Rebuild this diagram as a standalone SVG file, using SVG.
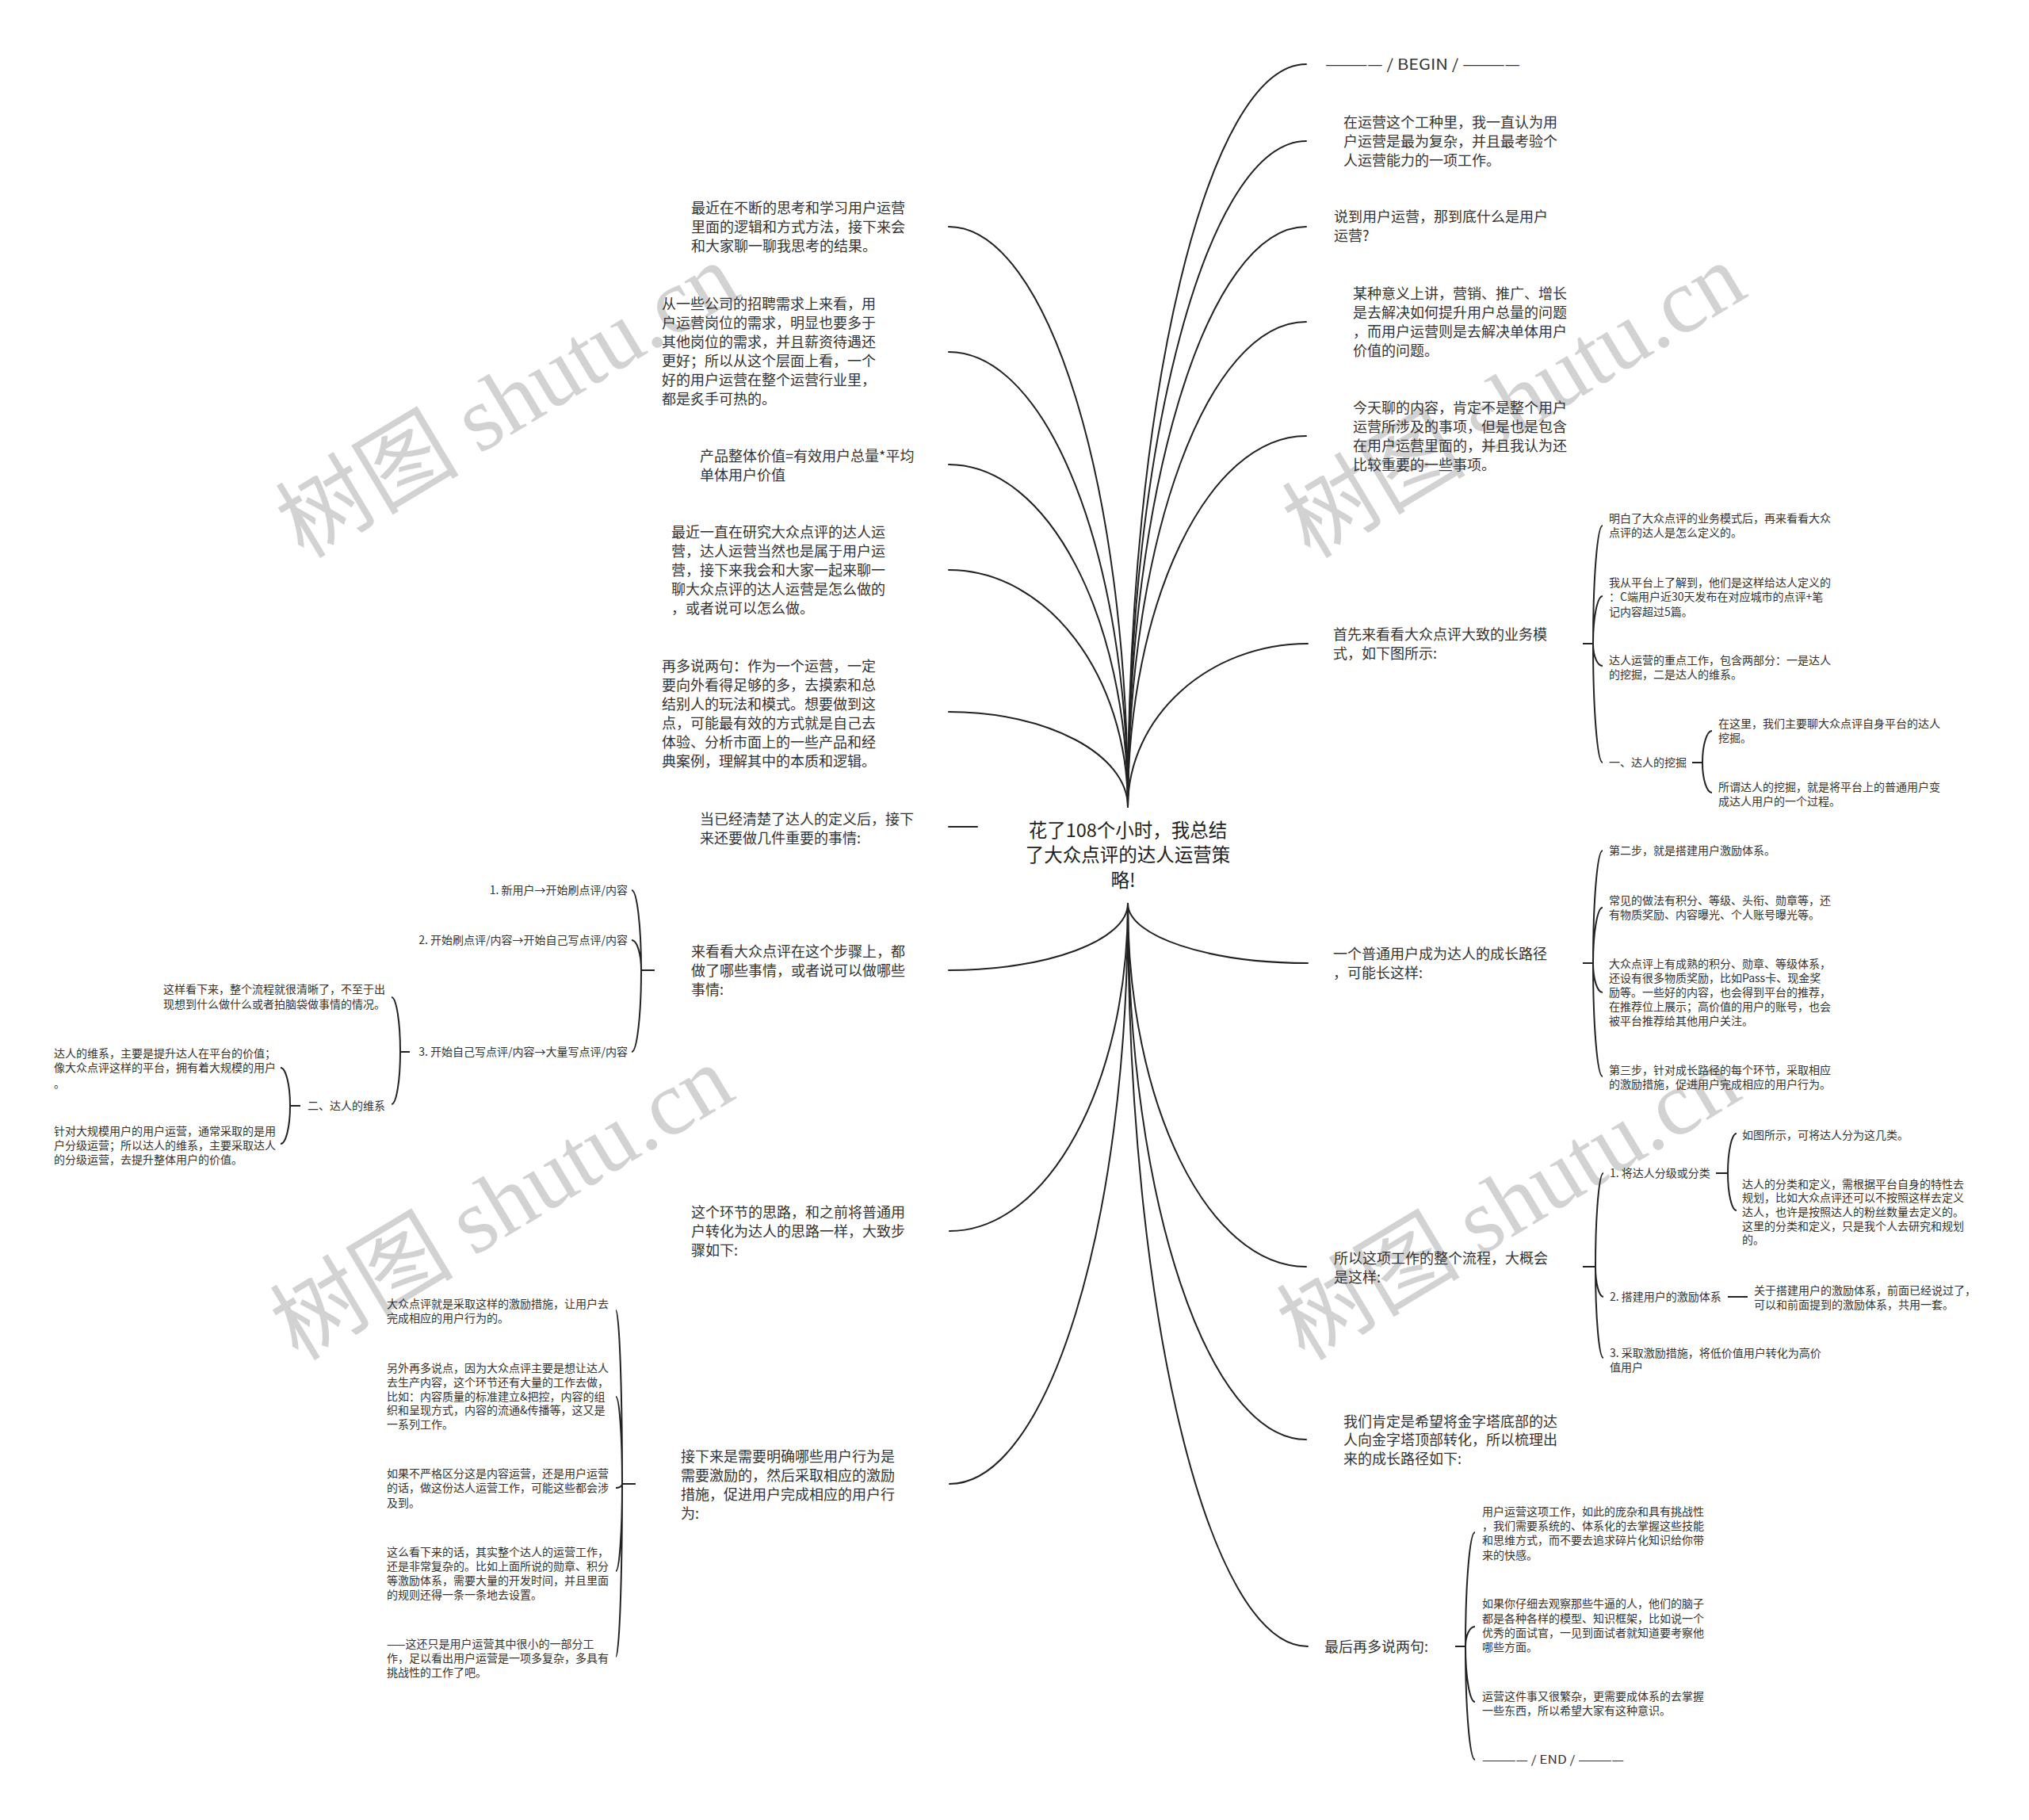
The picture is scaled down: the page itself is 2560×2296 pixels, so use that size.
<svg xmlns="http://www.w3.org/2000/svg" width="2560" height="2296" viewBox="0 0 2560 2296">
<style>
text{font-family:'Noto Sans CJK SC','Noto Sans',sans-serif;fill:#333}
.m{font-size:18px}
.s{font-size:14px}
.r{font-size:23.5px;text-anchor:middle;fill:#222}
.e{text-anchor:end}
.c{fill:none;stroke:#222;stroke-width:2;stroke-linecap:round}
.b{fill:none;stroke:#222;stroke-width:2}
.wm{font-size:116px;fill:#d2d2d2}
.wl{font-family:'Liberation Serif',serif}
</style>
<rect width="2560" height="2296" fill="#fff"/>
<g id="watermark">
<text class="wm" transform="translate(383,706) rotate(-31)">树图 <tspan class="wl">shutu.cn</tspan></text>
<text class="wm" transform="translate(1653,706) rotate(-31)">树图 <tspan class="wl">shutu.cn</tspan></text>
<text class="wm" transform="translate(376,1718) rotate(-31)">树图 <tspan class="wl">shutu.cn</tspan></text>
<text class="wm" transform="translate(1646,1718) rotate(-31)">树图 <tspan class="wl">shutu.cn</tspan></text>
</g>
<g id="connectors">
<path class="c" d="M1423 1018C1423 500 1524 81 1648 81"/>
<path class="c" d="M1423 1018C1423 554 1524 178 1648 178"/>
<path class="c" d="M1423 1018C1423 614 1524 286 1648 286"/>
<path class="c" d="M1423 1018C1423 680 1524 406 1648 406"/>
<path class="c" d="M1423 1018C1423 760 1524 550 1648 550"/>
<path class="c" d="M1423 1018C1423 904 1525 812 1650 812"/>
<path class="c" d="M1423 1018C1423 614 1322 286 1197 286"/>
<path class="c" d="M1423 1018C1423 701 1322 444 1197 444"/>
<path class="c" d="M1423 1018C1423 779 1322 586 1197 586"/>
<path class="c" d="M1423 1018C1423 853 1322 719 1197 719"/>
<path class="c" d="M1423 1018C1423 952 1322 898 1197 898"/>
<path class="c" d="M1233 1043H1197"/>
<path class="c" d="M1423 1140C1423 1181 1525 1215 1650 1215"/>
<path class="c" d="M1423 1140C1423 1393 1524 1598 1648 1598"/>
<path class="c" d="M1423 1140C1423 1513 1524 1816 1648 1816"/>
<path class="c" d="M1423 1140C1423 1658 1525 2077 1650 2077"/>
<path class="c" d="M1423 1140C1423 1186 1322 1224 1197 1224"/>
<path class="c" d="M1423 1140C1423 1368 1322 1553 1198 1553"/>
<path class="c" d="M1423 1140C1423 1544 1322 1872 1198 1872"/>
<path class="b" d="M1997 812H2010M2010 812C2010 730 2015.4 663 2022 663M2010 812C2010 779 2015.4 752 2022 752M2010 812C2010 827.5 2015.4 840 2022 840M2010 812C2010 895 2015.4 962 2022 962"/>
<path class="b" d="M2135 962H2148M2148 962C2148 940 2153.4 922 2160 922M2148 962C2148 983 2153.4 1000 2160 1000"/>
<path class="b" d="M1997 1215H2010M2010 1215C2010 1136.6 2015.4 1073 2022 1073M2010 1215C2010 1176.3 2015.4 1145 2022 1145M2010 1215C2010 1235.4 2015.4 1252 2022 1252M2010 1215C2010 1294 2015.4 1358 2022 1358"/>
<path class="b" d="M1997 1598H2013M2013 1598C2013 1533 2017.5 1480 2023 1480M2013 1598C2013 1619 2017.5 1636 2023 1636M2013 1598C2013 1661.5 2017.5 1713 2023 1713"/>
<path class="b" d="M2165 1480H2180M2180 1480C2180 1452.4 2185 1430 2191 1430M2180 1480C2180 1506 2185 1527 2191 1527"/>
<path class="b" d="M2180 1636H2205"/>
<path class="b" d="M1836 2077H1849M1849 2077C1849 1997.5 1854.4 1933 1861 1933M1849 2077C1849 2063 1854.4 2052 1861 2052M1849 2077C1849 2115.7 1854.4 2147 1861 2147M1849 2077C1849 2156 1854.4 2220 1861 2220"/>
<path class="b" d="M826 1224H809M809 1224C809 1168 803.6 1123 797 1123M809 1224C809 1203 803.6 1186 797 1186M809 1224C809 1281 803.6 1327 797 1327"/>
<path class="b" d="M517 1327H505M505 1327C505 1289 500 1258 494 1258M505 1327C505 1363.5 500 1393 494 1393"/>
<path class="b" d="M379 1395H366M366 1395C366 1368.5 360.6 1347 354 1347M366 1395C366 1421.5 360.6 1443 354 1443"/>
<path class="b" d="M802 1872H785M785 1872C785 1751 781.4 1653 777 1653M785 1872C785 1811 781.4 1762 777 1762M785 1872C785 1874.8 781.4 1877 777 1877M785 1872C785 1933 781.4 1982 777 1982M785 1872C785 1992 781.4 2090 777 2090"/>
</g>
<g id="root"><text class="r"><tspan x="1423" y="1056">花了108个小时，我总结</tspan><tspan x="1423" y="1087">了大众点评的达人运营策</tspan><tspan x="1417" y="1119">略!</tspan></text></g>
<g id="n-begin"><text class="m" x="1672" y="88" textLength="246" lengthAdjust="spacingAndGlyphs">———— / BEGIN / ————</text></g>
<g id="n-r1"><text class="m"><tspan x="1695" y="161">在运营这个工种里，我一直认为用</tspan><tspan x="1695" y="185">户运营是最为复杂，并且最考验个</tspan><tspan x="1695" y="209">人运营能力的一项工作。</tspan></text></g>
<g id="n-r2"><text class="m"><tspan x="1683" y="280">说到用户运营，那到底什么是用户</tspan><tspan x="1683" y="304">运营?</tspan></text></g>
<g id="n-r3"><text class="m"><tspan x="1707" y="377">某种意义上讲，营销、推广、增长</tspan><tspan x="1707" y="401">是去解决如何提升用户总量的问题</tspan><tspan x="1707" y="425">，而用户运营则是去解决单体用户</tspan><tspan x="1707" y="449">价值的问题。</tspan></text></g>
<g id="n-r4"><text class="m"><tspan x="1707" y="521">今天聊的内容，肯定不是整个用户</tspan><tspan x="1707" y="545">运营所涉及的事项，但是也是包含</tspan><tspan x="1707" y="569">在用户运营里面的，并且我认为还</tspan><tspan x="1707" y="593">比较重要的一些事项。</tspan></text></g>
<g id="n-r5"><text class="m"><tspan x="1682" y="807">首先来看看大众点评大致的业务模</tspan><tspan x="1682" y="831">式，如下图所示:</tspan></text></g>
<g id="n-r5a"><text class="s"><tspan x="2030" y="659">明白了大众点评的业务模式后，再来看看大众</tspan><tspan x="2030" y="677">点评的达人是怎么定义的。</tspan></text></g>
<g id="n-r5b"><text class="s"><tspan x="2030" y="740">我从平台上了解到，他们是这样给达人定义的</tspan><tspan x="2030" y="758">：C端用户近30天发布在对应城市的点评+笔</tspan><tspan x="2030" y="777">记内容超过5篇。</tspan></text></g>
<g id="n-r5c"><text class="s"><tspan x="2030" y="838">达人运营的重点工作，包含两部分：一是达人</tspan><tspan x="2030" y="856">的挖掘，二是达人的维系。</tspan></text></g>
<g id="n-r5d"><text class="s" x="2030" y="967">一、达人的挖掘</text></g>
<g id="n-r5d1"><text class="s"><tspan x="2168" y="918">在这里，我们主要聊大众点评自身平台的达人</tspan><tspan x="2168" y="936">挖掘。</tspan></text></g>
<g id="n-r5d2"><text class="s"><tspan x="2168" y="998">所谓达人的挖掘，就是将平台上的普通用户变</tspan><tspan x="2168" y="1016">成达人用户的一个过程。</tspan></text></g>
<g id="n-r6"><text class="m"><tspan x="1682" y="1210">一个普通用户成为达人的成长路径</tspan><tspan x="1682" y="1234">，可能长这样:</tspan></text></g>
<g id="n-r6a"><text class="s" x="2030" y="1078">第二步，就是搭建用户激励体系。</text></g>
<g id="n-r6b"><text class="s"><tspan x="2030" y="1141">常见的做法有积分、等级、头衔、勋章等，还</tspan><tspan x="2030" y="1159">有物质奖励、内容曝光、个人账号曝光等。</tspan></text></g>
<g id="n-r6c"><text class="s"><tspan x="2030" y="1221">大众点评上有成熟的积分、勋章、等级体系，</tspan><tspan x="2030" y="1239">还设有很多物质奖励，比如Pass卡、现金奖</tspan><tspan x="2030" y="1257">励等。一些好的内容，也会得到平台的推荐，</tspan><tspan x="2030" y="1275">在推荐位上展示；高价值的用户的账号，也会</tspan><tspan x="2030" y="1293">被平台推荐给其他用户关注。</tspan></text></g>
<g id="n-r6d"><text class="s"><tspan x="2030" y="1355">第三步，针对成长路径的每个环节，采取相应</tspan><tspan x="2030" y="1373">的激励措施，促进用户完成相应的用户行为。</tspan></text></g>
<g id="n-r7"><text class="m"><tspan x="1683" y="1594">所以这项工作的整个流程，大概会</tspan><tspan x="1683" y="1618">是这样:</tspan></text></g>
<g id="n-r7a"><text class="s" x="2031" y="1485">1. 将达人分级或分类</text></g>
<g id="n-r7a1"><text class="s" x="2198" y="1437">如图所示，可将达人分为这几类。</text></g>
<g id="n-r7a2"><text class="s"><tspan x="2198" y="1499">达人的分类和定义，需根据平台自身的特性去</tspan><tspan x="2198" y="1516">规划，比如大众点评还可以不按照这样去定义</tspan><tspan x="2198" y="1534">达人，也许是按照达人的粉丝数量去定义的。</tspan><tspan x="2198" y="1552">这里的分类和定义，只是我个人去研究和规划</tspan><tspan x="2198" y="1569">的。</tspan></text></g>
<g id="n-r7b"><text class="s" x="2031" y="1641">2. 搭建用户的激励体系</text></g>
<g id="n-r7b1"><text class="s"><tspan x="2213" y="1633">关于搭建用户的激励体系，前面已经说过了，</tspan><tspan x="2213" y="1651">可以和前面提到的激励体系，共用一套。</tspan></text></g>
<g id="n-r7c"><text class="s"><tspan x="2031" y="1712">3. 采取激励措施，将低价值用户转化为高价</tspan><tspan x="2031" y="1730">值用户</tspan></text></g>
<g id="n-r8"><text class="m"><tspan x="1695" y="1800">我们肯定是希望将金字塔底部的达</tspan><tspan x="1695" y="1823">人向金字塔顶部转化，所以梳理出</tspan><tspan x="1695" y="1847">来的成长路径如下:</tspan></text></g>
<g id="n-r9"><text class="m" x="1671" y="2084">最后再多说两句:</text></g>
<g id="n-r9a"><text class="s"><tspan x="1870" y="1912">用户运营这项工作，如此的庞杂和具有挑战性</tspan><tspan x="1870" y="1930">，我们需要系统的、体系化的去掌握这些技能</tspan><tspan x="1870" y="1948">和思维方式，而不要去追求碎片化知识给你带</tspan><tspan x="1870" y="1967">来的快感。</tspan></text></g>
<g id="n-r9b"><text class="s"><tspan x="1870" y="2028">如果你仔细去观察那些牛逼的人，他们的脑子</tspan><tspan x="1870" y="2047">都是各种各样的模型、知识框架，比如说一个</tspan><tspan x="1870" y="2065">优秀的面试官，一见到面试者就知道要考察他</tspan><tspan x="1870" y="2083">哪些方面。</tspan></text></g>
<g id="n-r9c"><text class="s"><tspan x="1870" y="2145">运营这件事又很繁杂，更需要成体系的去掌握</tspan><tspan x="1870" y="2163">一些东西，所以希望大家有这种意识。</tspan></text></g>
<g id="n-end"><text class="s" x="1870" y="2225" textLength="179" lengthAdjust="spacingAndGlyphs">———— / END / ————</text></g>
<g id="n-l1"><text class="m"><tspan x="872" y="269">最近在不断的思考和学习用户运营</tspan><tspan x="872" y="293">里面的逻辑和方式方法，接下来会</tspan><tspan x="872" y="317">和大家聊一聊我思考的结果。</tspan></text></g>
<g id="n-l2"><text class="m"><tspan x="835" y="390">从一些公司的招聘需求上来看，用</tspan><tspan x="835" y="414">户运营岗位的需求，明显也要多于</tspan><tspan x="835" y="438">其他岗位的需求，并且薪资待遇还</tspan><tspan x="835" y="462">更好；所以从这个层面上看，一个</tspan><tspan x="835" y="486">好的用户运营在整个运营行业里，</tspan><tspan x="835" y="510">都是炙手可热的。</tspan></text></g>
<g id="n-l3"><text class="m"><tspan x="883" y="582">产品整体价值=有效用户总量*平均</tspan><tspan x="883" y="606">单体用户价值</tspan></text></g>
<g id="n-l4"><text class="m"><tspan x="847" y="678">最近一直在研究大众点评的达人运</tspan><tspan x="847" y="702">营，达人运营当然也是属于用户运</tspan><tspan x="847" y="726">营，接下来我会和大家一起来聊一</tspan><tspan x="847" y="750">聊大众点评的达人运营是怎么做的</tspan><tspan x="847" y="774">，或者说可以怎么做。</tspan></text></g>
<g id="n-l5"><text class="m"><tspan x="835" y="847">再多说两句：作为一个运营，一定</tspan><tspan x="835" y="871">要向外看得足够的多，去摸索和总</tspan><tspan x="835" y="895">结别人的玩法和模式。想要做到这</tspan><tspan x="835" y="919">点，可能最有效的方式就是自己去</tspan><tspan x="835" y="943">体验、分析市面上的一些产品和经</tspan><tspan x="835" y="967">典案例，理解其中的本质和逻辑。</tspan></text></g>
<g id="n-l6"><text class="m"><tspan x="883" y="1040">当已经清楚了达人的定义后，接下</tspan><tspan x="883" y="1064">来还要做几件重要的事情:</tspan></text></g>
<g id="n-l7"><text class="m"><tspan x="872" y="1207">来看看大众点评在这个步骤上，都</tspan><tspan x="872" y="1231">做了哪些事情，或者说可以做哪些</tspan><tspan x="872" y="1255">事情:</tspan></text></g>
<g id="n-l7a"><text class="s e" x="792" y="1128">1. 新用户→开始刷点评/内容</text></g>
<g id="n-l7b"><text class="s e" x="792" y="1191">2. 开始刷点评/内容→开始自己写点评/内容</text></g>
<g id="n-l7c"><text class="s e" x="792" y="1332">3. 开始自己写点评/内容→大量写点评/内容</text></g>
<g id="n-l7c1"><text class="s"><tspan x="206" y="1253">这样看下来，整个流程就很清晰了，不至于出</tspan><tspan x="206" y="1272">现想到什么做什么或者拍脑袋做事情的情况。</tspan></text></g>
<g id="n-l7c2"><text class="s e" x="486" y="1400">二、达人的维系</text></g>
<g id="n-l7c2a"><text class="s"><tspan x="68" y="1334">达人的维系，主要是提升达人在平台的价值；</tspan><tspan x="68" y="1352">像大众点评这样的平台，拥有着大规模的用户</tspan><tspan x="68" y="1372">。</tspan></text></g>
<g id="n-l7c2b"><text class="s"><tspan x="68" y="1432">针对大规模用户的用户运营，通常采取的是用</tspan><tspan x="68" y="1450">户分级运营；所以达人的维系，主要采取达人</tspan><tspan x="68" y="1468">的分级运营，去提升整体用户的价值。</tspan></text></g>
<g id="n-l8"><text class="m"><tspan x="872" y="1536">这个环节的思路，和之前将普通用</tspan><tspan x="872" y="1560">户转化为达人的思路一样，大致步</tspan><tspan x="872" y="1584">骤如下:</tspan></text></g>
<g id="n-l9"><text class="m"><tspan x="859" y="1844">接下来是需要明确哪些用户行为是</tspan><tspan x="859" y="1868">需要激励的，然后采取相应的激励</tspan><tspan x="859" y="1892">措施，促进用户完成相应的用户行</tspan><tspan x="859" y="1916">为:</tspan></text></g>
<g id="n-l9a"><text class="s"><tspan x="488" y="1650">大众点评就是采取这样的激励措施，让用户去</tspan><tspan x="488" y="1668">完成相应的用户行为的。</tspan></text></g>
<g id="n-l9b"><text class="s"><tspan x="488" y="1731">另外再多说点，因为大众点评主要是想让达人</tspan><tspan x="488" y="1749">去生产内容，这个环节还有大量的工作去做，</tspan><tspan x="488" y="1767">比如：内容质量的标准建立&amp;把控，内容的组</tspan><tspan x="488" y="1784">织和呈现方式，内容的流通&amp;传播等，这又是</tspan><tspan x="488" y="1802">一系列工作。</tspan></text></g>
<g id="n-l9c"><text class="s"><tspan x="488" y="1864">如果不严格区分这是内容运营，还是用户运营</tspan><tspan x="488" y="1882">的话，做这份达人运营工作，可能这些都会涉</tspan><tspan x="488" y="1901">及到。</tspan></text></g>
<g id="n-l9d"><text class="s"><tspan x="488" y="1963">这么看下来的话，其实整个达人的运营工作，</tspan><tspan x="488" y="1981">还是非常复杂的。比如上面所说的勋章、积分</tspan><tspan x="488" y="1999">等激励体系，需要大量的开发时间，并且里面</tspan><tspan x="488" y="2017">的规则还得一条一条地去设置。</tspan></text></g>
<g id="n-l9e"><text class="s"><tspan x="488" y="2079">——这还只是用户运营其中很小的一部分工</tspan><tspan x="488" y="2097">作，足以看出用户运营是一项多复杂，多具有</tspan><tspan x="488" y="2115">挑战性的工作了吧。</tspan></text></g>
</svg>
